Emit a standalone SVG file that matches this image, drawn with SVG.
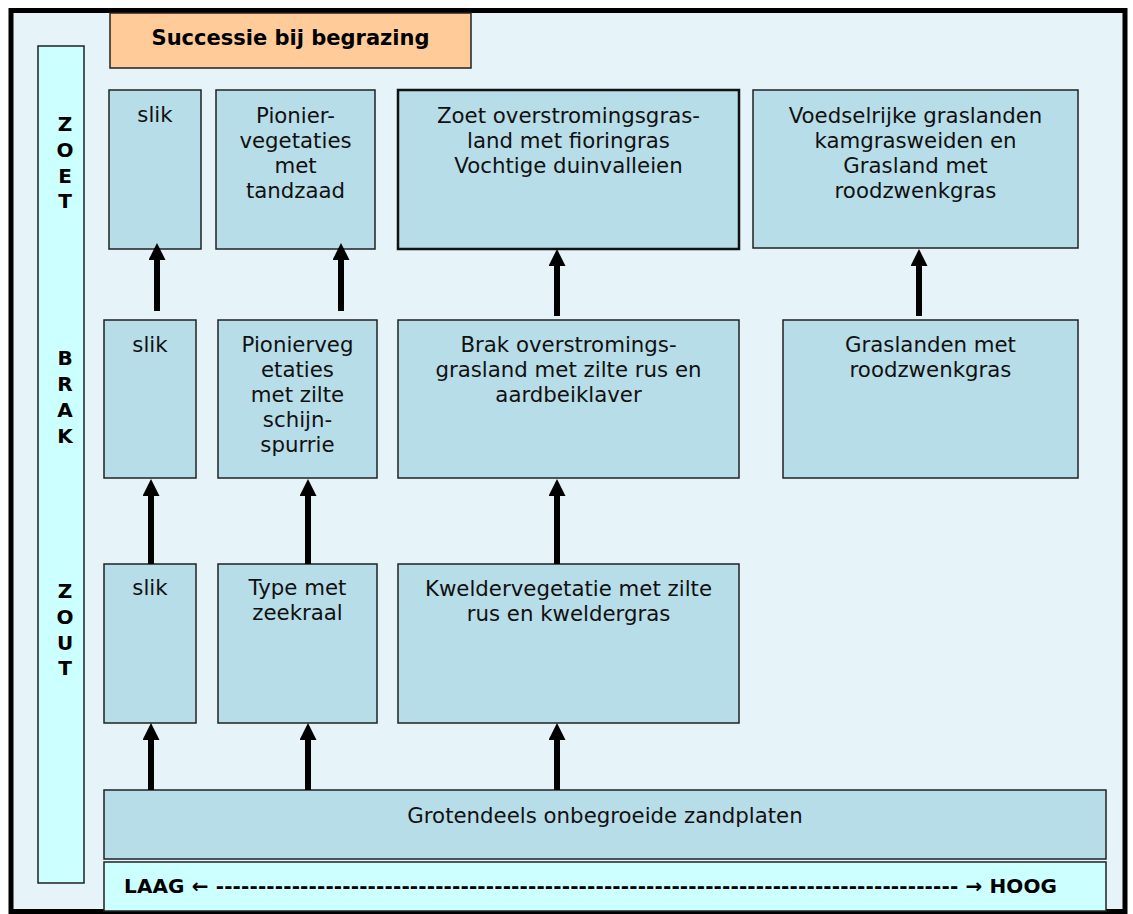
<svg xmlns="http://www.w3.org/2000/svg" width="1133" height="914" viewBox="0 0 1133 914">
<defs>
<style>
.box{fill:#B7DDE8;stroke:#222;stroke-width:1.5}
.thick{stroke-width:2.5;stroke:#111}
.side{fill:#CCFFFF;stroke:#222;stroke-width:1.5}
.t{font-family:"DejaVu Sans",Verdana,sans-serif;font-size:21.3px;fill:#111;text-anchor:middle}
.b{font-family:"DejaVu Sans",Verdana,sans-serif;font-weight:bold;fill:#000}
.lt{font-size:20px;text-anchor:middle}
.arr{stroke:#000;stroke-width:6;fill:none;marker-end:url(#ah)}
</style>
<marker id="ah" viewBox="0 0 17 17" refX="7" refY="8.5" markerWidth="17" markerHeight="17" markerUnits="userSpaceOnUse" orient="auto">
<path d="M0,0 L17,8.5 L0,17 z" fill="#000"/>
</marker>
</defs>
<rect x="11" y="10.5" width="1114" height="901" fill="#E6F3F8" stroke="#000" stroke-width="5"/>

<g id="title">
<rect x="110" y="13" width="361" height="55" fill="#FFCC99" stroke="#222" stroke-width="1.5"/>
<text class="b" x="290.5" y="45" font-size="21" text-anchor="middle">Successie bij begrazing</text>
</g>

<g id="side-column">
<rect class="side" x="38" y="46" width="46" height="837"/>
<text class="b lt"><tspan x="65" y="131">Z</tspan><tspan x="65" y="157">O</tspan><tspan x="65" y="183">E</tspan><tspan x="65" y="208">T</tspan></text>
<text class="b lt"><tspan x="65" y="365">B</tspan><tspan x="65" y="391">R</tspan><tspan x="65" y="417">A</tspan><tspan x="65" y="443">K</tspan></text>
<text class="b lt"><tspan x="65" y="598">Z</tspan><tspan x="65" y="624">O</tspan><tspan x="65" y="650">U</tspan><tspan x="65" y="675">T</tspan></text>
</g>

<g id="zoet-slik">
<rect class="box" x="109" y="90" width="92" height="159"/>
<text class="t" x="155" y="122">slik</text>
</g>
<g id="zoet-pionier">
<rect class="box" x="216" y="90" width="159" height="159"/>
<text class="t"><tspan x="295.5" y="123">Pionier-</tspan><tspan x="295.5" y="148">vegetaties</tspan><tspan x="295.5" y="173">met</tspan><tspan x="295.5" y="198">tandzaad</tspan></text>
</g>
<g id="zoet-overstroming">
<rect class="box thick" x="398" y="90" width="341" height="159"/>
<text class="t"><tspan x="568.5" y="123">Zoet overstromingsgras-</tspan><tspan x="568.5" y="148">land met fioringras</tspan><tspan x="568.5" y="173">Vochtige duinvalleien</tspan></text>
</g>
<g id="zoet-voedselrijk">
<rect class="box" x="753" y="90" width="325" height="158"/>
<text class="t"><tspan x="915.5" y="123">Voedselrijke graslanden</tspan><tspan x="915.5" y="148">kamgrasweiden en</tspan><tspan x="915.5" y="173">Grasland met</tspan><tspan x="915.5" y="198">roodzwenkgras</tspan></text>
</g>

<g id="brak-slik">
<rect class="box" x="104" y="320" width="92" height="158"/>
<text class="t" x="150" y="352">slik</text>
</g>
<g id="brak-pionier">
<rect class="box" x="218" y="320" width="159" height="158"/>
<text class="t"><tspan x="297.5" y="352">Pionierveg</tspan><tspan x="297.5" y="377">etaties</tspan><tspan x="297.5" y="402">met zilte</tspan><tspan x="297.5" y="427">schijn-</tspan><tspan x="297.5" y="452">spurrie</tspan></text>
</g>
<g id="brak-overstroming">
<rect class="box" x="398" y="320" width="341" height="158"/>
<text class="t"><tspan x="568.5" y="352">Brak overstromings-</tspan><tspan x="568.5" y="377">grasland met zilte rus en</tspan><tspan x="568.5" y="402">aardbeiklaver</tspan></text>
</g>
<g id="brak-graslanden">
<rect class="box" x="783" y="320" width="295" height="158"/>
<text class="t"><tspan x="930.5" y="352">Graslanden met</tspan><tspan x="930.5" y="377">roodzwenkgras</tspan></text>
</g>

<g id="zout-slik">
<rect class="box" x="104" y="564" width="92" height="159"/>
<text class="t" x="150" y="595">slik</text>
</g>
<g id="zout-zeekraal">
<rect class="box" x="218" y="564" width="159" height="159"/>
<text class="t"><tspan x="297.5" y="595">Type met</tspan><tspan x="297.5" y="620">zeekraal</tspan></text>
</g>
<g id="zout-kwelder">
<rect class="box" x="398" y="564" width="341" height="159"/>
<text class="t"><tspan x="568.5" y="596">Kweldervegetatie met zilte</tspan><tspan x="568.5" y="621">rus en kweldergras</tspan></text>
</g>

<g id="zandplaten">
<rect class="box" x="104" y="790" width="1002" height="69"/>
<text class="t" x="605" y="823">Grotendeels onbegroeide zandplaten</text>
</g>

<g id="laag-hoog">
<rect class="side" x="104" y="862" width="1002" height="49"/>
<text class="b" x="124" y="893" font-size="20" textLength="933" lengthAdjust="spacing">LAAG ← ---------------------------------------------------------------------------------------- → HOOG</text>
</g>

<g id="connectors">
<line class="arr" x1="157" y1="311" x2="157" y2="253"/>
<line class="arr" x1="341" y1="311" x2="341" y2="253"/>
<line class="arr" x1="557" y1="316" x2="557" y2="259"/>
<line class="arr" x1="919" y1="316" x2="919" y2="259"/>
<line class="arr" x1="151" y1="564" x2="151" y2="489"/>
<line class="arr" x1="308" y1="564" x2="308" y2="489"/>
<line class="arr" x1="557" y1="564" x2="557" y2="489"/>
<line class="arr" x1="151" y1="790" x2="151" y2="733"/>
<line class="arr" x1="308" y1="790" x2="308" y2="733"/>
<line class="arr" x1="557" y1="790" x2="557" y2="733"/>
</g>
</svg>
